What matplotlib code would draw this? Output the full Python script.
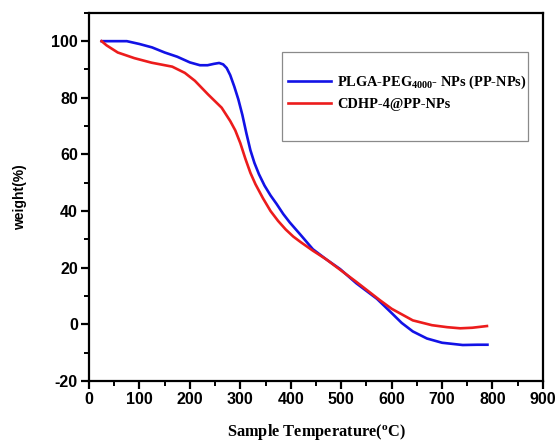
import matplotlib
matplotlib.use("Agg")
import matplotlib.pyplot as plt
from matplotlib.patches import Rectangle
from matplotlib.ticker import MultipleLocator

# TGA curves (temperature in C, weight in %)
temp_pp = [25, 50, 75, 100, 125, 150, 175, 200, 220, 235, 248, 258, 266, 273,
           280, 288, 296, 304, 312, 320, 328, 337, 348, 360, 372, 385, 398,
           420, 444, 470, 498, 530, 571, 600, 620, 642, 670, 700, 741, 770, 790]
weight_pp = [100, 100, 100, 99, 97.8, 96, 94.5, 92.5, 91.5, 91.5, 92, 92.3,
             91.8, 90.5, 88, 84, 79.5, 74, 67.5, 61.5, 57, 53, 49, 45.5, 42.5,
             39, 36, 31.5, 26.5, 23, 19.5, 14.5, 9, 4, 0.5, -2.5, -5, -6.5,
             -7.3, -7.2, -7.2]

temp_cdhp = [25, 35, 57, 90, 124, 165, 190, 210, 236, 263, 280, 290, 300, 310,
             320, 330, 345, 360, 375, 390, 405, 420, 444, 470, 500, 530, 577,
             600, 642, 680, 710, 736, 760, 789]
weight_cdhp = [100, 98.5, 96, 94, 92.4, 91, 88.8, 86, 81.2, 76.5, 71.8, 68.5,
               64, 58.5, 53.5, 49.5, 44.5, 40, 36.5, 33.5, 31, 29, 26, 23, 19,
               15, 8.5, 5.5, 1.4, -0.3, -1, -1.4, -1.2, -0.6]

labels = [r"PLGA-PEG$_{4000}$- NPs (PP-NPs)", "CDHP-4@PP-NPs"]

plt.rcParams["axes.unicode_minus"] = False
plt.rcParams["mathtext.fontset"] = "custom"
plt.rcParams["mathtext.rm"] = "Liberation Serif:bold"
plt.rcParams["mathtext.bf"] = "Liberation Serif:bold"
plt.rcParams["mathtext.it"] = "Liberation Serif:bold"

fig = plt.figure(figsize=(5.58, 4.43), dpi=100)
ax = fig.add_axes([0.1595, 0.14, 0.8135, 0.831])

ax.plot(temp_pp, weight_pp, color="#1212e6", lw=1.9, label=labels[0],
        solid_joinstyle="round")
ax.plot(temp_cdhp, weight_cdhp, color="#ec1c1c", lw=1.9, label=labels[1],
        solid_joinstyle="round")

ax.set_xlim(0, 900)
ax.xaxis.set_major_locator(MultipleLocator(100))
ax.xaxis.set_minor_locator(MultipleLocator(50))
ax.yaxis.set_minor_locator(MultipleLocator(10))
ax.set_yticks(range(-20, 101, 20))
ax.set_ylim(-20, 110)

for s in ax.spines.values():
    s.set_linewidth(1.6)
ax.tick_params(which="major", direction="out", length=6, width=1.6,
               labelsize=11.5, pad=2)
ax.tick_params(which="minor", direction="out", length=3.5, width=1.4)
for t in ax.get_xticklabels() + ax.get_yticklabels():
    t.set_fontfamily("Liberation Sans")
    t.set_fontweight("bold")

ax.set_xlabel(r"Sample Temperature($^{\mathrm{o}}$C)", fontfamily="Liberation Serif",
              fontweight="bold", fontsize=11.8, labelpad=10.5)
ax.set_ylabel("weight(%)", fontfamily="Liberation Sans", fontweight="bold",
              fontsize=10, labelpad=17)

# legend frame drawn separately (the legend sits loosely in a big box)
ax.add_patch(Rectangle((0.425, 0.652), 0.542, 0.242, transform=ax.transAxes,
                       fill=False, edgecolor="#8a8a8a", lw=0.9, zorder=3))
ax.legend(frameon=False, loc="center left", bbox_to_anchor=(0.438, 0.784),
          borderpad=0, borderaxespad=0, handlelength=3.0, handletextpad=0.4,
          labelspacing=0.5,
          prop={"family": "Liberation Serif", "weight": "bold", "size": 10.4})

fig.savefig("out.png", dpi=100)
